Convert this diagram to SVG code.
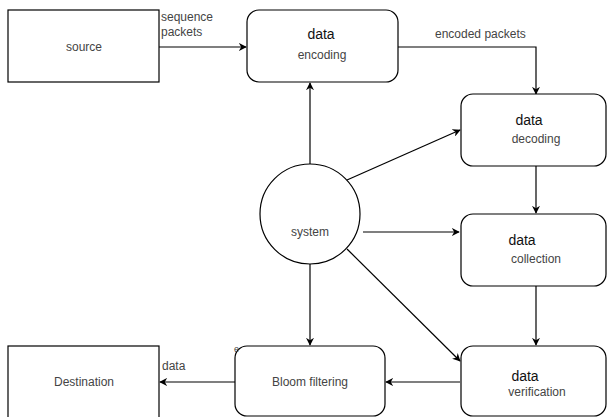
<svg xmlns="http://www.w3.org/2000/svg" width="607" height="417" viewBox="0 0 607 417">
<defs>
<marker id="arr" viewBox="0 0 10 10" refX="9" refY="5" markerWidth="8" markerHeight="8" markerUnits="userSpaceOnUse" orient="auto">
<path d="M0,0 L10,5 L0,10 L3,5 Z" fill="#000"/>
</marker>
</defs>
<style>
.box{fill:#fff;stroke:#000;stroke-width:1.2}
.lbl{font-family:"Liberation Sans",Arial,sans-serif;font-size:12px;fill:#444}
.hd{font-family:"Liberation Sans",Arial,sans-serif;font-size:14px;fill:#111}
.ln{fill:none;stroke:#000;stroke-width:1.2;marker-end:url(#arr)}
</style>
<rect width="607" height="417" fill="#fff"/>
<g id="connectors">
<path class="ln" d="M159,47 H246"/>
<path class="ln" d="M398,47 H536 V94"/>
<path class="ln" d="M310,165 V83"/>
<path class="ln" d="M347,180 L460,130"/>
<path class="ln" d="M363,232 H459"/>
<path class="ln" d="M536,166 V213"/>
<path class="ln" d="M536,286 V345"/>
<path class="ln" d="M347,249 L460,361"/>
<path class="ln" d="M310,263 V345"/>
<path class="ln" d="M460,382 H386"/>
<path class="ln" d="M235,382 H160"/>
<text class="lbl" x="161" y="21">sequence</text>
<text class="lbl" x="161" y="36">packets</text>
<text class="lbl" x="435" y="38">encoded packets</text>
<text class="lbl" x="162" y="370">data</text>
</g>
<g id="source">
<rect class="box" x="8" y="10" width="151" height="72"/>
<text class="lbl" x="84" y="51" text-anchor="middle">source</text>
</g>
<g id="encoding">
<rect class="box" x="247" y="10" width="151" height="72" rx="12"/>
<text class="hd" x="321" y="39" text-anchor="middle">data</text>
<text class="lbl" x="322" y="59" text-anchor="middle">encoding</text>
</g>
<g id="decoding">
<rect class="box" x="461" y="94" width="145" height="72" rx="12"/>
<text class="hd" x="529" y="125" text-anchor="middle">data</text>
<text class="lbl" x="536" y="143" text-anchor="middle">decoding</text>
</g>
<g id="system">
<circle class="box" cx="310" cy="214" r="50"/>
<text class="lbl" x="310" y="236" text-anchor="middle">system</text>
</g>
<g id="collection">
<rect class="box" x="461" y="214" width="145" height="72" rx="12"/>
<text class="hd" x="522" y="245" text-anchor="middle">data</text>
<text class="lbl" x="536" y="263" text-anchor="middle">collection</text>
</g>
<g id="verification">
<rect class="box" x="461" y="346" width="145" height="70" rx="12"/>
<text class="hd" x="525" y="381" text-anchor="middle">data</text>
<text class="lbl" x="537" y="396" text-anchor="middle">verification</text>
</g>
<g id="bloom">
<rect class="box" x="235" y="346" width="150" height="70" rx="12"/>
<text class="lbl" x="310" y="386" text-anchor="middle">Bloom filtering</text>
<text class="lbl" x="234" y="352" style="font-size:9px">e</text>
</g>
<g id="destination">
<rect class="box" x="8" y="346" width="151" height="80"/>
<text class="lbl" x="84" y="386" text-anchor="middle">Destination</text>
</g>
</svg>
